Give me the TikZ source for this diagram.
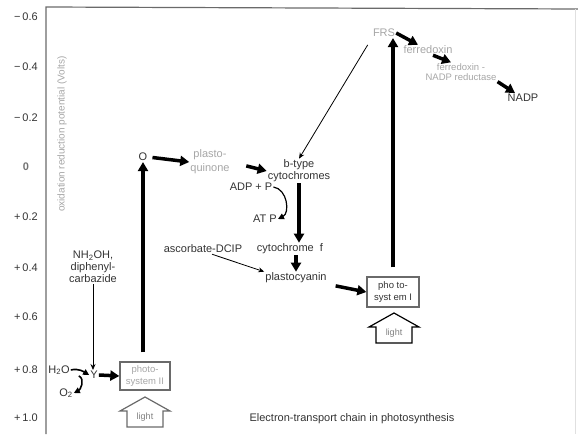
\documentclass[tikz,border=0pt]{standalone}
\usepackage{fontspec}
\setmainfont{Liberation Sans}
\usetikzlibrary{arrows.meta,positioning}
\definecolor{ink}{HTML}{333333}
\definecolor{faint}{HTML}{A6A6A6}
\definecolor{framegray}{HTML}{6A6A6A}

\begin{document}
\begin{tikzpicture}[x=1pt,y=-1pt,
  lbl/.style={font=\fontsize{11}{12}\selectfont, text=ink, inner sep=1pt, align=center},
  dim/.style={lbl, text=faint},
  tick/.style={font=\fontsize{11}{12}\selectfont, text=ink},
  heavy/.style={line width=3.5pt, -{Triangle[length=9pt,width=10pt]}},
  medium/.style={line width=1.6pt, -{Triangle[length=6pt,width=6pt]}},
  slim/.style={line width=0.8pt, -{Stealth[length=6pt,width=5pt]}},
  psbox/.style={draw=framegray, line width=1.3pt, inner sep=2pt, align=center,
    font=\fontsize{9.5}{12}\selectfont}]
  \useasboundingbox (0,0) rectangle (578,434);

  % Frame
  \draw[framegray, line width=1.2pt] (46,434) -- (46,7) -- (578,9);
  \draw[black!12, line width=0.8pt] (575,9) -- (575,434);

  % Potential scale
  \foreach \yy/\lab in {17/−\,0.6, 67/−\,0.4, 118/−\,0.2, 217/+\,0.2, 268/+\,0.4, 317/+\,0.6, 370/+\,0.8, 418/+\,1.0}
    \node[tick] (tick\yy) at (26,\yy) {\lab};
  \node[tick, text=black!55, font=\bfseries\fontsize{11}{12}\selectfont] (tick0) at (26,167) {0};
  \node[font=\fontsize{10}{12}\selectfont, text=faint, rotate=90] (axis) at (62,134) {oxidation reduction potential (Volts)};

  % Photosystem II side
  \node[psbox, text=faint, minimum width=50pt, minimum height=28pt] (ps2) at (145,376) {photo-\\system II};
  \node[lbl] (o) at (143,157) {O};
  \node[dim, font=\fontsize{11}{14}\selectfont] (pq) at (210,162) {plasto-\\quinone};
  \node[lbl] (h2o) at (59,370) {H\textsubscript{2}O};
  \node[lbl] (yy) at (94,375) {Y};
  \node[lbl] (o2) at (66,393) {O\textsubscript{2}};
  \node[lbl] (nh2oh) at (93,267) {NH\textsubscript{2}OH,\\diphenyl-\\carbazide};

  % Cytochrome chain
  \node[lbl] (bcyt) at (299,171) {b-type\\cytochromes};
  \node[lbl] (adp) at (251,187) {ADP + P};
  \node[lbl] (atp) at (265,219) {AT P};
  \node[lbl] (cytf) at (290,249) {cytochrome\ \ f};
  \node[lbl] (ascdcip) at (203,249) {ascorbate-DCIP};
  \node[lbl] (pc) at (296,278) {plastocyanin};

  % Photosystem I side
  \node[psbox, text=ink, minimum width=52pt, minimum height=30pt] (ps1) at (393,292) {pho to-\\syst em I};
  \node[dim] (frs) at (384,33) {FRS};
  \node[dim] (fd) at (428,50) {ferredoxin};
  \node[dim, font=\fontsize{9.5}{10}\selectfont] (fnr) at (461,72) {ferredoxin -\\NADP reductase};
  \node[lbl] (nadp) at (523,98) {NADP};

  % Light arrows
  \foreach \cx/\ty/\nm/\col in {145/397/2/framegray, 394/313/1/black} {
    \draw[\col, line width=1.2pt, line join=miter] (\cx,\ty) -- (\cx+25,\ty+14) -- (\cx+18,\ty+14)
      -- (\cx+18,\ty+30) -- (\cx-18,\ty+30) -- (\cx-18,\ty+14) -- (\cx-25,\ty+14) -- cycle;
    \node[font=\fontsize{9}{10}\selectfont, text=black!50] (light\nm) at (\cx,\ty+20) {light};
  }

  % Electron flow
  \draw[heavy, shorten <=9pt] (ps2.north -| o.south) -- (o.south);
  \draw[heavy, shorten <=4pt] (o.east) -- (pq.west);
  \draw[heavy, shorten <=16pt] (pq.east) -- (bcyt.west);
  \draw[heavy] (bcyt.south) -- (bcyt.south |- cytf.north);
  \draw[heavy] (cytf.south -| pc) -- (pc.north);
  \draw[heavy, shorten <=8pt] (pc.south east) -- (ps1.west);
  \draw[heavy, shorten <=9pt] (ps1.north) -- (ps1.north |- frs.south);
  \draw[heavy] (frs.east) -- ([xshift=-10pt]fd.north);
  \draw[heavy] ([xshift=5pt]fd.south) -- ([xshift=-10pt]fnr.north);
  \draw[heavy] (fnr.south east) -- ([xshift=-8pt]nadp.north);
  \draw[heavy] (yy.east) -- (ps2.west);

  % Water side and side reactions
  \draw[medium] (h2o.east) .. controls +(8,-2) and +(-5,-3) .. (yy.west);
  \draw[medium] ([xshift=8pt]h2o.south east) .. controls +(7,4) and +(6,-3) .. (o2.east);
  \draw[medium, line width=1.2pt] (adp.east) .. controls +(14,2) and +(12,-6) .. (atp.east);
  \draw[slim] (nh2oh.south) -- (nh2oh.south |- yy.north);
  \draw[slim] ([xshift=9pt]ascdcip.south) -- (pc.north west);
  \draw[slim, shorten <=8pt] (frs.south west) -- (bcyt.north);

  % Caption
  \node[lbl] (title) at (352,419) {Electron-transport chain in photosynthesis};
\end{tikzpicture}
\end{document}
